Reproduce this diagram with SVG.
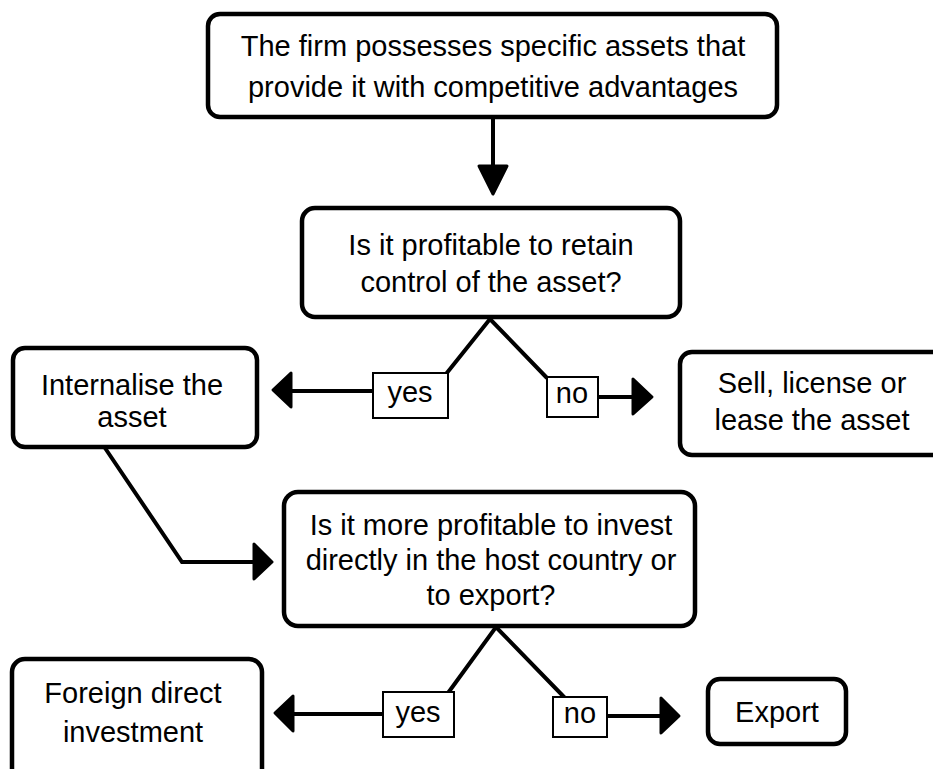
<svg xmlns="http://www.w3.org/2000/svg" width="933" height="769" viewBox="0 0 933 769">
<style>
.box{fill:#fff;stroke:#000;stroke-width:4.5}
.lbl{fill:#fff;stroke:#000;stroke-width:2}
.t{font-family:"Liberation Sans",Arial,sans-serif;font-size:29px;fill:#000;text-anchor:middle}
.ln{fill:none;stroke:#000;stroke-width:4;stroke-linejoin:miter}
.hd{fill:#000;stroke:#000;stroke-width:3;stroke-linejoin:round}
</style>
<rect width="933" height="769" fill="#fff"/>
<g id="connectors">
<line class="ln" x1="493" y1="118" x2="493" y2="168"/>
<polygon class="hd" points="479,166 507,166 493,194"/>
<polyline class="ln" points="446,374 490,319 547,378"/>
<line class="ln" x1="373" y1="391" x2="288" y2="391"/>
<polygon class="hd" points="291,373 291,407 273,390"/>
<line class="ln" x1="598" y1="397" x2="636" y2="397"/>
<polygon class="hd" points="633,379 633,414 652,397"/>
<polyline class="ln" points="105,448 182,562 256,562"/>
<polygon class="hd" points="254,544 254,579 272,562"/>
<polyline class="ln" points="448,693 496,627 565,698"/>
<line class="ln" x1="383" y1="714" x2="290" y2="714"/>
<polygon class="hd" points="293,696 293,731 275,713"/>
<line class="ln" x1="607" y1="716" x2="663" y2="716"/>
<polygon class="hd" points="661,698 661,733 679,716"/>
</g>
<g id="n1">
<rect class="box" x="208" y="14" width="569" height="103" rx="12"/>
<text class="t" x="493" y="56">The firm possesses specific assets that</text>
<text class="t" x="493" y="97">provide it with competitive advantages</text>
</g>
<g id="n2">
<rect class="box" x="302" y="208" width="378" height="109" rx="13"/>
<text class="t" x="491" y="255">Is it profitable to retain</text>
<text class="t" x="491" y="292">control of the asset?</text>
</g>
<g id="n3">
<rect class="box" x="13" y="348" width="244" height="99" rx="12"/>
<text class="t" x="132" y="395">Internalise the</text>
<text class="t" x="132" y="427">asset</text>
</g>
<g id="n4">
<rect class="box" x="680" y="352" width="280" height="103" rx="12"/>
<text class="t" x="812" y="393">Sell, license or</text>
<text class="t" x="812" y="430">lease the asset</text>
</g>
<g id="l1">
<rect class="lbl" x="373" y="373" width="75" height="45"/>
<text class="t" x="410" y="402">yes</text>
</g>
<g id="l2">
<rect class="lbl" x="547" y="377" width="51" height="40"/>
<text class="t" x="572" y="403">no</text>
</g>
<g id="n5">
<rect class="box" x="284" y="492" width="411" height="134" rx="14"/>
<text class="t" x="491" y="535">Is it more profitable to invest</text>
<text class="t" x="491" y="570">directly in the host country or</text>
<text class="t" x="491" y="605">to export?</text>
</g>
<g id="n6">
<rect class="box" x="12" y="659" width="250" height="130" rx="13"/>
<text class="t" x="133" y="703">Foreign direct</text>
<text class="t" x="133" y="742">investment</text>
</g>
<g id="l3">
<rect class="lbl" x="383" y="692" width="71" height="45"/>
<text class="t" x="418" y="722">yes</text>
</g>
<g id="l4">
<rect class="lbl" x="553" y="697" width="54" height="40"/>
<text class="t" x="580" y="723">no</text>
</g>
<g id="n7">
<rect class="box" x="708" y="679" width="138" height="65" rx="12"/>
<text class="t" x="777" y="722">Export</text>
</g>
</svg>
